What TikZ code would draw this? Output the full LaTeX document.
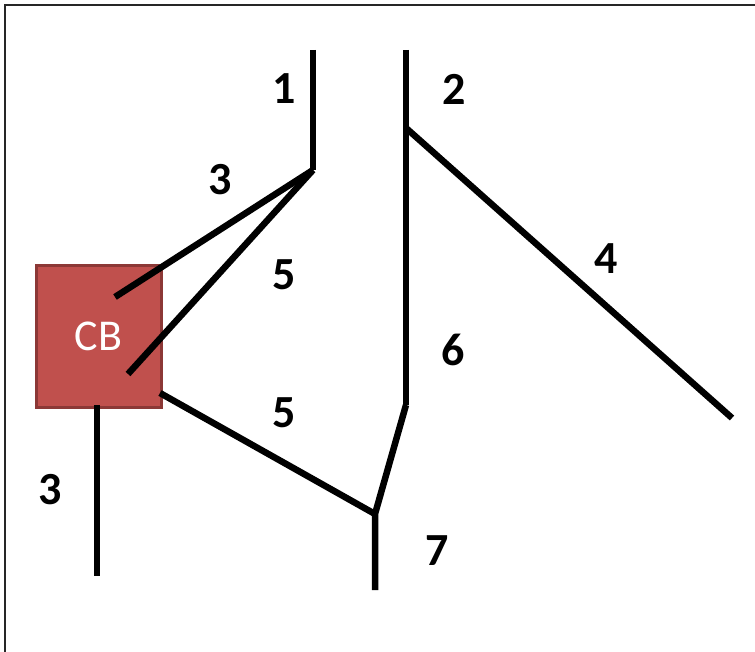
\documentclass[tikz,border=0pt]{standalone}
\usepackage{fontspec}
\setmainfont{Carlito}
\definecolor{cbfill}{HTML}{C0504D}
\definecolor{cbedge}{HTML}{8C3836}
\begin{document}
\begin{tikzpicture}[x=1pt,y=-1pt,
  wire/.style={line width=6.5pt,line cap=butt,black},
  lbl/.style={font=\fontsize{46}{46}\selectfont\bfseries,inner sep=0pt},
  cb/.style={fill=cbfill,draw=cbedge,line width=3pt,minimum width=125pt,minimum height=141pt,inner sep=0pt,font=\fontsize{44}{44}\selectfont,text=white}]
\useasboundingbox (0,0) rectangle (755,652);
\draw[line width=2.5pt,black!85] (5,652) -- (5,5) -- (755,5);
\node[cb] (cbox) at (98.5,336.5) {CB};
% coordinates
\coordinate (t1) at (313,50);
\coordinate (j1) at (313,170);
\coordinate (t2) at (406,50);
\coordinate (j2) at (406,128);
\coordinate (b2) at (406,405);
\coordinate (e4) at (732,418);
\coordinate (a3) at (115,297);
\coordinate (a5) at (128,374);
\coordinate (c5) at (160,393);
\coordinate (j7) at (375,514);
\coordinate (e7) at (375,590);
\coordinate (c3) at (97,405);
\coordinate (e3) at (97,576);
\draw[wire] (t1) -- (j1);
\draw[wire] (t2) -- (b2);
\draw[wire] (j2) -- (e4);
\draw[wire] (j1) -- (a3);
\draw[wire] (j1) -- (a5);
\draw[wire] (c5) -- (j7);
\draw[wire,line join=miter] (b2) -- (j7) -- (e7);
\draw[wire] (c3) -- (e3);
% labels
\node[lbl] (l1) at (284,89) {1};
\node[lbl] (l2) at (454,89) {2};
\node[lbl] (l3a) at (220,180) {3};
\node[lbl] (l5a) at (284,275) {5};
\node[lbl] (l4) at (606,259) {4};
\node[lbl] (l6) at (453,350) {6};
\node[lbl] (l5b) at (284,413) {5};
\node[lbl] (l3b) at (50,490) {3};
\node[lbl] (l7) at (437,551) {7};
\end{tikzpicture}
\end{document}
